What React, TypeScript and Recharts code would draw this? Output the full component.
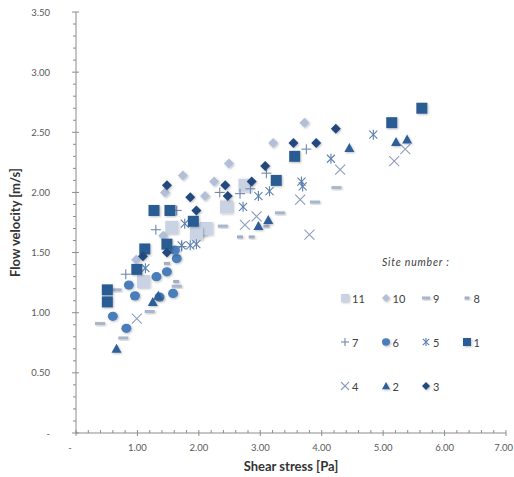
import React from 'react'
import { ScatterChart, Scatter, XAxis, YAxis, Legend } from 'recharts'

type Pt = { x: number; y: number }

// readings per site, shear stress [Pa] vs flow velocity [m/s]
const site1: Pt[] = [
  { x: 0.51, y: 1.19 }, { x: 0.51, y: 1.09 }, { x: 0.99, y: 1.36 }, { x: 1.12, y: 1.53 },
  { x: 1.27, y: 1.85 }, { x: 1.53, y: 1.85 }, { x: 1.48, y: 1.57 }, { x: 1.91, y: 1.76 },
  { x: 3.26, y: 2.1 }, { x: 3.56, y: 2.3 }, { x: 5.14, y: 2.58 }, { x: 5.63, y: 2.7 },
]
const site2: Pt[] = [
  { x: 0.66, y: 0.7 }, { x: 1.25, y: 1.09 }, { x: 1.34, y: 1.14 }, { x: 2.97, y: 1.72 },
  { x: 3.13, y: 1.77 }, { x: 4.45, y: 2.37 }, { x: 5.21, y: 2.42 }, { x: 5.39, y: 2.44 },
]
const site3: Pt[] = [
  { x: 1.48, y: 2.06 }, { x: 1.86, y: 1.96 }, { x: 1.96, y: 1.85 }, { x: 2.43, y: 2.06 },
  { x: 2.47, y: 1.97 }, { x: 2.86, y: 2.09 }, { x: 3.08, y: 2.22 }, { x: 3.54, y: 2.41 },
  { x: 3.91, y: 2.41 }, { x: 4.23, y: 2.53 }, { x: 1.09, y: 1.47 }, { x: 1.48, y: 1.5 },
]
const site4: Pt[] = [
  { x: 0.99, y: 0.95 }, { x: 2.75, y: 1.73 }, { x: 2.94, y: 1.8 }, { x: 3.65, y: 1.94 },
  { x: 3.8, y: 1.65 }, { x: 4.3, y: 2.19 }, { x: 5.18, y: 2.26 }, { x: 5.36, y: 2.36 },
]
const site5: Pt[] = [
  { x: 1.13, y: 1.37 }, { x: 1.77, y: 1.74 }, { x: 1.72, y: 1.56 }, { x: 1.86, y: 1.56 },
  { x: 1.96, y: 1.57 }, { x: 2.72, y: 1.88 }, { x: 2.97, y: 1.97 }, { x: 3.15, y: 2.01 },
  { x: 3.67, y: 2.09 }, { x: 3.69, y: 2.05 }, { x: 4.15, y: 2.28 }, { x: 4.84, y: 2.48 },
]
const site6: Pt[] = [
  { x: 0.6, y: 0.97 }, { x: 0.82, y: 0.87 }, { x: 0.86, y: 1.23 }, { x: 0.96, y: 1.14 },
  { x: 1.31, y: 1.3 }, { x: 1.48, y: 1.34 }, { x: 1.64, y: 1.45 }, { x: 1.61, y: 1.52 },
  { x: 1.58, y: 1.16 }, { x: 1.36, y: 1.13 },
]
const site7: Pt[] = [
  { x: 0.81, y: 1.32 }, { x: 1.3, y: 1.69 }, { x: 1.64, y: 1.85 }, { x: 2.34, y: 2.0 },
  { x: 2.67, y: 1.99 }, { x: 2.84, y: 2.03 }, { x: 3.1, y: 2.16 }, { x: 3.75, y: 2.36 },
  { x: 1.72, y: 1.55 },
]
const site8: Pt[] = [
  { x: 2.67, y: 1.63 }, { x: 2.86, y: 1.63 }, { x: 3.1, y: 1.72 }, { x: 1.63, y: 1.26 },
  { x: 1.48, y: 1.41 },
]
const site9: Pt[] = [
  { x: 0.39, y: 0.91 }, { x: 0.66, y: 1.19 }, { x: 0.77, y: 0.79 }, { x: 1.2, y: 1.01 },
  { x: 1.64, y: 1.22 }, { x: 2.39, y: 1.72 }, { x: 3.32, y: 1.83 }, { x: 3.89, y: 1.92 },
  { x: 4.24, y: 2.04 },
]
const site10: Pt[] = [
  { x: 0.98, y: 1.44 }, { x: 1.45, y: 2.0 }, { x: 1.74, y: 2.14 }, { x: 2.1, y: 1.97 },
  { x: 2.25, y: 2.09 }, { x: 2.49, y: 2.24 }, { x: 3.21, y: 2.41 }, { x: 3.72, y: 2.58 },
  { x: 1.42, y: 1.64 },
]
const site11: Pt[] = [
  { x: 1.1, y: 1.26 }, { x: 2.02, y: 1.69 }, { x: 2.12, y: 1.7 }, { x: 2.45, y: 1.88 },
  { x: 2.75, y: 2.06 }, { x: 1.56, y: 1.71 }, { x: 1.96, y: 1.66 },
]

const xMajor = [0, 1, 2, 3, 4, 5, 6, 7]
const xLabels = ['-', '1.00', '2.00', '3.00', '4.00', '5.00', '6.00', '7.00']
const yMajor = [0, 0.5, 1, 1.5, 2, 2.5, 3, 3.5]
const yLabels = ['-', '0.50', '1.00', '1.50', '2.00', '2.50', '3.00', '3.50']
const xTicks = Array.from({ length: 36 }, (_, i) => Math.round(i * 2) / 10)
const yTicks = Array.from({ length: 36 }, (_, i) => i / 10)

type Kind = 'square' | 'diamond' | 'triangle' | 'circle' | 'x' | 'plus' | 'star' | 'dash' | 'smalldash' | 'bigsquare'

const sites = [
  { id: 11, data: site11, kind: 'bigsquare' as Kind, color: '#c9d3e4' },
  { id: 10, data: site10, kind: 'diamond' as Kind, color: '#b3bfd8' },
  { id: 9, data: site9, kind: 'dash' as Kind, color: '#a9b5cc' },
  { id: 8, data: site8, kind: 'smalldash' as Kind, color: '#a2adc2' },
  { id: 4, data: site4, kind: 'x' as Kind, color: '#8b9dc0' },
  { id: 7, data: site7, kind: 'plus' as Kind, color: '#7088b0' },
  { id: 5, data: site5, kind: 'star' as Kind, color: '#5c80b0' },
  { id: 6, data: site6, kind: 'circle' as Kind, color: '#4a7ebb' },
  { id: 2, data: site2, kind: 'triangle' as Kind, color: '#2d5f99' },
  { id: 1, data: site1, kind: 'square' as Kind, color: '#2c5c94' },
  { id: 3, data: site3, kind: 'diamond' as Kind, color: '#244a7d' },
]

const legendRows = [[11, 10, 9, 8], [7, 6, 5, 1], [4, 2, 3]]

const FONT = 'Lato, "Open Sans", sans-serif'

function Marker({ kind, color, cx, cy, s }: { kind: Kind; color: string; cx: number; cy: number; s: number }) {
  const h = s / 2
  const f = 'url(#shd)'
  switch (kind) {
    case 'bigsquare':
    case 'square':
      return <rect x={cx - h} y={cy - h} width={s} height={s} fill={color} filter={f} />
    case 'diamond':
      return <polygon points={`${cx},${cy - h} ${cx + h},${cy} ${cx},${cy + h} ${cx - h},${cy}`} fill={color} filter={f} />
    case 'triangle':
      return <polygon points={`${cx},${cy - h} ${cx + h},${cy + h * 0.8} ${cx - h},${cy + h * 0.8}`} fill={color} filter={f} />
    case 'circle':
      return <ellipse cx={cx} cy={cy} rx={h} ry={h * 0.92} fill={color} filter={f} />
    case 'x':
      return (
        <g stroke={color} strokeWidth={1.1}>
          <line x1={cx - h} y1={cy - h} x2={cx + h} y2={cy + h} />
          <line x1={cx - h} y1={cy + h} x2={cx + h} y2={cy - h} />
        </g>
      )
    case 'plus':
      return (
        <g stroke={color} strokeWidth={1.1}>
          <line x1={cx - h} y1={cy} x2={cx + h} y2={cy} />
          <line x1={cx} y1={cy - h} x2={cx} y2={cy + h} />
        </g>
      )
    case 'star':
      return (
        <g stroke={color} strokeWidth={1.1}>
          <line x1={cx - h * 0.8} y1={cy - h * 0.8} x2={cx + h * 0.8} y2={cy + h * 0.8} />
          <line x1={cx - h * 0.8} y1={cy + h * 0.8} x2={cx + h * 0.8} y2={cy - h * 0.8} />
          <line x1={cx} y1={cy - h} x2={cx} y2={cy + h} />
        </g>
      )
    case 'dash':
      return <rect x={cx - h} y={cy - 1.5} width={s} height={3} fill={color} filter={f} />
    case 'smalldash':
      return <rect x={cx - h * 0.6} y={cy - 1.5} width={s * 0.6} height={3} fill={color} filter={f} />
  }
  return null
}

const sizeOf = (k: Kind) => (k === 'bigsquare' ? 13 : k === 'square' ? 11 : 10)

function XTick(props: any) {
  const { x, y, payload } = props
  const i = xMajor.findIndex((v) => Math.abs(v - payload.value) < 1e-6)
  if (i < 0) return <line x1={x} y1={y - 3} x2={x} y2={y} stroke="#8c8c8c" />
  const last = i === xMajor.length - 1
  return (
    <g>
      <line x1={x} y1={y - 3} x2={x} y2={y + 3} stroke="#8c8c8c" />
      <text x={i === 0 ? x - 6 : last ? x + 7 : x} y={y + 18} textAnchor={last ? 'end' : 'middle'}
        fontSize={9.5} fill="#595959" fontFamily={FONT}>
        {xLabels[i]}
      </text>
    </g>
  )
}

function YTick(props: any) {
  const { x, y, payload } = props
  const i = yMajor.findIndex((v) => Math.abs(v - payload.value) < 1e-6)
  if (i < 0) return <line x1={x - 3} y1={y} x2={x} y2={y} stroke="#8c8c8c" />
  return (
    <g>
      <line x1={x - 4} y1={y} x2={x + 3} y2={y} stroke="#8c8c8c" />
      <text x={x - 26} y={y + 3.5} textAnchor="end" fontSize={9.5} fill="#595959" fontFamily={FONT}>
        {yLabels[i]}
      </text>
    </g>
  )
}

function YTitle(props: any) {
  const vb = props.viewBox
  const cx = vb.x - 1
  const cy = vb.y + vb.height / 2
  return (
    <text x={cx} y={cy} transform={`rotate(-90 ${cx} ${cy})`} textAnchor="middle" dominantBaseline="central"
      fontSize={13} fontWeight="bold" fill="#333" fontFamily={FONT}>
      Flow velocity [m/s]
    </text>
  )
}

function SiteLegend() {
  return (
    <div style={{ fontFamily: FONT, color: '#404040' }}>
      <div style={{ fontStyle: 'italic', fontSize: 10.5, letterSpacing: 0.8, marginLeft: 42, height: 35 }}>Site number :</div>
      {legendRows.map((row, r) => (
        <div key={r} style={{ display: 'flex', height: 44 }}>
          {row.map((id) => {
            const s = sites.find((d) => d.id === id)!
            return (
              <div key={id} style={{ width: 40.5, display: 'flex', alignItems: 'center', height: 14 }}>
                <svg width={10} height={12} style={{ overflow: 'visible' }}>
                  <Marker kind={s.kind} color={s.color} cx={5} cy={6} s={8} />
                </svg>
                <span style={{ fontSize: 11, marginLeft: 2 }}>{id}</span>
              </div>
            )
          })}
        </div>
      ))}
    </div>
  )
}

export default function App() {
  return (
    <div style={{ position: 'absolute', left: 0, top: 0, width: 514, height: 477, background: '#fff' }}>
      <svg width={0} height={0} style={{ position: 'absolute' }}>
        <defs>
          <filter id="shd" x="-40%" y="-40%" width="180%" height="180%">
            <feDropShadow dx={1} dy={1} stdDeviation={0.8} floodColor="#000" floodOpacity={0.25} />
          </filter>
        </defs>
      </svg>
      <ScatterChart width={514} height={477} margin={{ top: 12, right: 8, bottom: 14, left: 16 }}>
        <XAxis
          type="number" dataKey="x" domain={[0, 7]} ticks={xTicks} interval={0} allowDataOverflow
          height={30} tickSize={0} tickMargin={0} tick={<XTick />} stroke="#8c8c8c"
          label={{ value: 'Shear stress [Pa]', position: 'bottom', offset: -1, fontSize: 13, fontWeight: 'bold', fill: '#333', fontFamily: FONT }}
        />
        <YAxis
          type="number" dataKey="y" domain={[0, 3.5]} ticks={yTicks} interval={0} allowDataOverflow
          width={60} tickSize={0} tickMargin={0} tick={<YTick />} stroke="#8c8c8c" label={<YTitle />}
        />
        <XAxis xAxisId="top" orientation="top" type="number" domain={[0, 7]} height={0} tick={false} tickLine={false} stroke="#8c8c8c" />
        <YAxis yAxisId="right" orientation="right" type="number" domain={[0, 3.5]} width={0} tick={false} tickLine={false} stroke="#8c8c8c" />
        {sites.map((s) => (
          <Scatter
            key={s.id} name={String(s.id)} data={s.data} isAnimationActive={false}
            shape={(p: any) => <Marker kind={s.kind} color={s.color} cx={p.cx} cy={p.cy} s={sizeOf(s.kind)} />}
          />
        ))}
        <Legend
          layout="horizontal" verticalAlign="middle" align="center"
          content={() => <SiteLegend />}
          wrapperStyle={{ left: 340, top: 256, width: 170 }}
        />
      </ScatterChart>
    </div>
  )
}
